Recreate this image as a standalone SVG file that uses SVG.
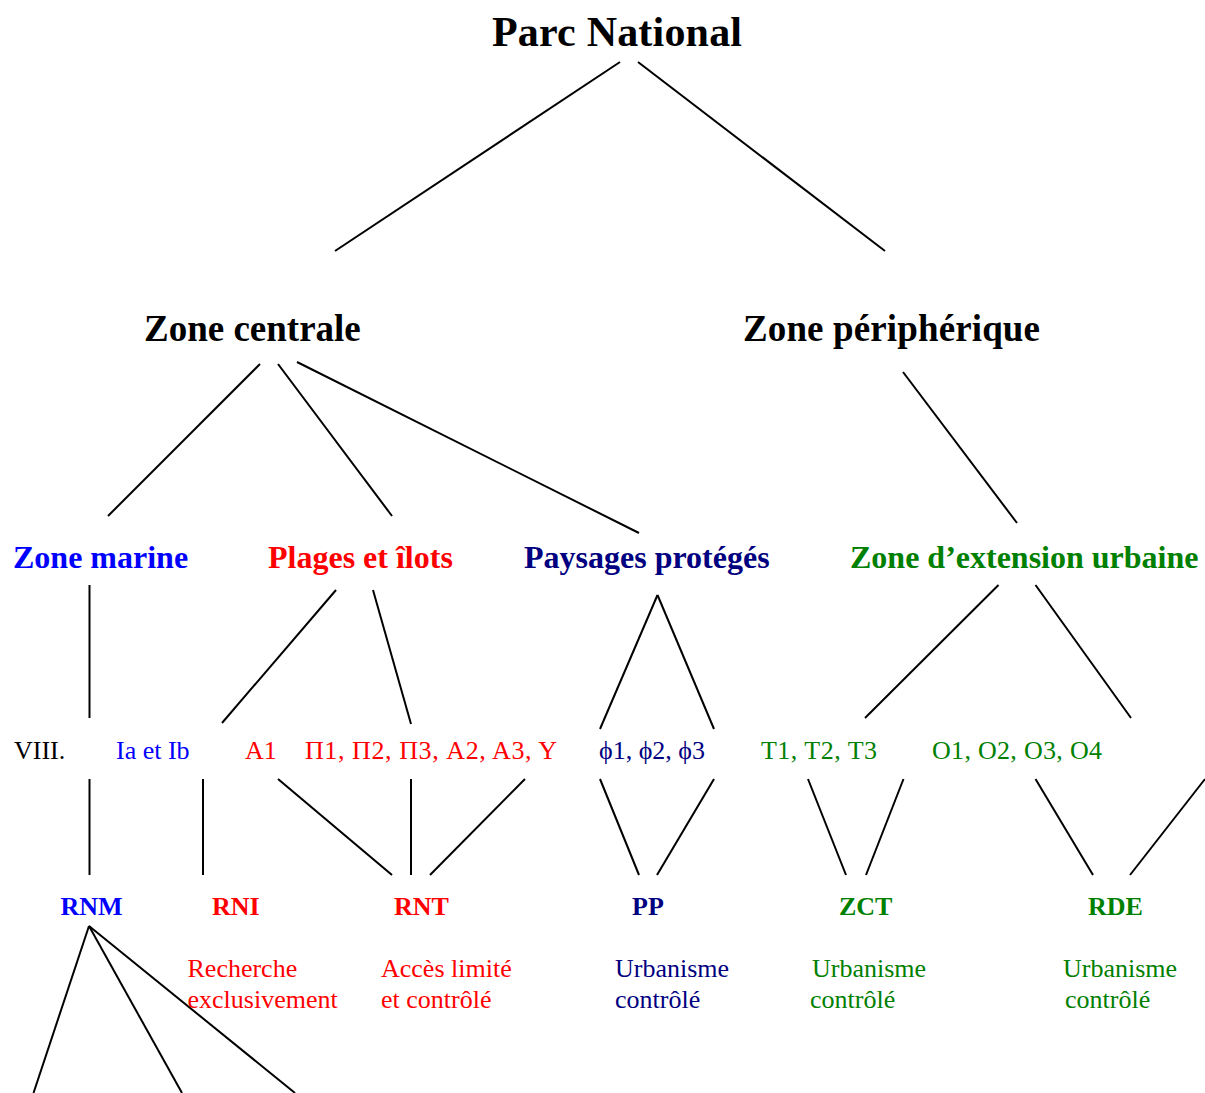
<svg xmlns="http://www.w3.org/2000/svg" width="1205" height="1093" viewBox="0 0 1205 1093">
<style>
text{font-family:"Liberation Serif","Times New Roman",serif;}
.b{font-weight:bold;}
.t1{font-size:42px;}
.t2{font-size:37px;}
.t3{font-size:32px;}
.t4{font-size:26px;}
.k{fill:#000000;}
.bl{fill:#0000FF;}
.rd{fill:#FF0000;}
.nv{fill:#000080;}
.gr{fill:#008000;}
#connectors line{stroke:#000000;stroke-width:2;fill:none;}
</style>
<rect width="1205" height="1093" fill="#FFFFFF"/>
<g id="connectors">
<line x1="620" y1="62" x2="335" y2="251"/>
<line x1="638" y1="62" x2="885" y2="251"/>
<line x1="260" y1="364" x2="108" y2="516"/>
<line x1="278" y1="364" x2="392" y2="516"/>
<line x1="297" y1="362" x2="639" y2="533"/>
<line x1="903" y1="372" x2="1017" y2="523"/>
<line x1="89.5" y1="585" x2="89.5" y2="718"/>
<line x1="336" y1="590" x2="222" y2="723"/>
<line x1="373" y1="590" x2="411" y2="724"/>
<line x1="657.5" y1="595" x2="600" y2="729"/>
<line x1="657.5" y1="595" x2="714" y2="729"/>
<line x1="998.5" y1="585" x2="865" y2="718"/>
<line x1="1035.5" y1="585" x2="1131" y2="718"/>
<line x1="89.5" y1="779" x2="89.5" y2="875"/>
<line x1="203" y1="779" x2="203" y2="875"/>
<line x1="278" y1="779" x2="392" y2="875"/>
<line x1="411" y1="779" x2="411" y2="875"/>
<line x1="525" y1="779" x2="430" y2="875"/>
<line x1="600" y1="779" x2="639" y2="875"/>
<line x1="714" y1="779" x2="657" y2="875"/>
<line x1="808" y1="779" x2="846" y2="875"/>
<line x1="903.5" y1="779" x2="866" y2="875"/>
<line x1="1035.5" y1="779" x2="1093" y2="875"/>
<line x1="1205" y1="779" x2="1130" y2="875"/>
<line x1="89" y1="926" x2="33.5" y2="1093"/>
<line x1="89" y1="926" x2="182" y2="1093"/>
<line x1="89" y1="926" x2="295" y2="1093"/>
</g>
<g id="parc-national"><text x="492" y="46" class="b t1 k" textLength="250">Parc National</text></g>
<g id="zone-centrale"><text x="144" y="341" class="b t2 k">Zone centrale</text></g>
<g id="zone-peripherique"><text x="743" y="341" class="b t2 k" textLength="297">Zone périphérique</text></g>
<g id="zone-marine"><text x="13" y="568" class="b t3 bl">Zone marine</text></g>
<g id="plages-ilots"><text x="268" y="568" class="b t3 rd">Plages et îlots</text></g>
<g id="paysages-proteges"><text x="524" y="568" class="b t3 nv">Paysages protégés</text></g>
<g id="zone-extension"><text x="850" y="568" class="b t3 gr">Zone d’extension urbaine</text></g>
<g id="viii"><text x="14" y="759" class="t4 k">VIII.</text></g>
<g id="ia-ib"><text x="116" y="759" class="t4 bl">Ia et Ib</text></g>
<g id="a1"><text x="245" y="759" class="t4 rd">A1</text></g>
<g id="pi-group"><text x="305" y="759" class="t4 rd" textLength="252">Π1, Π2, Π3, A2, A3, Y</text></g>
<g id="phi-group"><text x="599" y="759" class="t4 nv">ϕ1, ϕ2, ϕ3</text></g>
<g id="t-group"><text x="761" y="759" class="t4 gr" textLength="116">T1, T2, T3</text></g>
<g id="o-group"><text x="932" y="759" class="t4 gr" textLength="170">O1, O2, O3, O4</text></g>
<g id="rnm"><text x="60.5" y="915" class="b t4 bl">RNM</text></g>
<g id="rni"><text x="212" y="915" class="b t4 rd">RNI</text>
<text x="187.5" y="977" class="t4 rd">Recherche</text>
<text x="187.5" y="1008" class="t4 rd">exclusivement</text></g>
<g id="rnt"><text x="394" y="915" class="b t4 rd">RNT</text>
<text x="381" y="977" class="t4 rd">Accès limité</text>
<text x="381" y="1008" class="t4 rd">et contrôlé</text></g>
<g id="pp"><text x="632" y="915" class="b t4 nv">PP</text>
<text x="615" y="977" class="t4 nv">Urbanisme</text>
<text x="615" y="1008" class="t4 nv">contrôlé</text></g>
<g id="zct"><text x="839" y="915" class="b t4 gr">ZCT</text>
<text x="812" y="977" class="t4 gr">Urbanisme</text>
<text x="810" y="1008" class="t4 gr">contrôlé</text></g>
<g id="rde"><text x="1088" y="915" class="b t4 gr">RDE</text>
<text x="1063" y="977" class="t4 gr">Urbanisme</text>
<text x="1065" y="1008" class="t4 gr">contrôlé</text></g>
</svg>
